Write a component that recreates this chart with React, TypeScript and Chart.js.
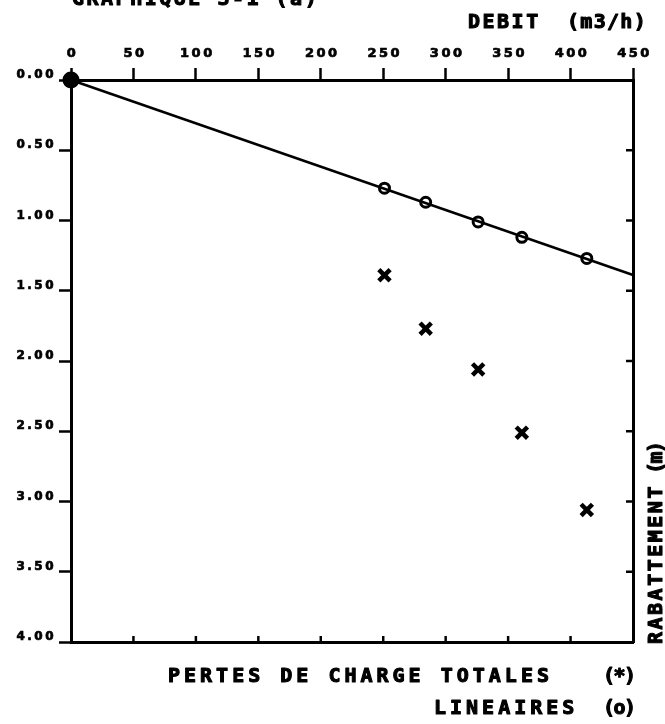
import { useEffect, useRef } from 'react';
import { Chart, registerables } from 'chart.js';

Chart.register(...registerables);

const INK = '#000000';
const MONO = '"DejaVu Sans Mono", "Liberation Mono", monospace';
const SANS = '"DejaVu Sans", Verdana, sans-serif';

// Titles and captions
const chartTitle = 'GRAPHIQUE 3-1 (a)';
const debitTitle = ['DEBIT', '(m3/h)'];
const rabTitle = ['RABATTEMENT', '(m)'];
const totalesCaption = ['PERTES DE CHARGE TOTALES', '(*)'];
const lineairesCaption = ['LINEAIRES', '(o)'];

// Axis ticks
const debitTicks = [0, 50, 100, 150, 200, 250, 300, 350, 400, 450];
const rabTicks = [0, 0.5, 1, 1.5, 2, 2.5, 3, 3.5, 4];
const rabTickLabels = ['0.00', '0.50', '1.00', '1.50', '2.00', '2.50', '3.00', '3.50', '4.00'];

// Pumping steps: flow rate (m3/h) and drawdown losses (m)
const debit = [0, 251, 284, 326, 361, 413];
const pertesTotales = [0, 1.39, 1.77, 2.06, 2.51, 3.06];
const pertesLineaires = [0, 0.77, 0.87, 1.01, 1.12, 1.27];

// Straight line fitted through the linear losses
const droiteDebit = [0, 450];
const droiteRab = [0, 1.388];

// heavy plotter-style text: fill plus a thin outline
function plotText(ctx: CanvasRenderingContext2D, text: string, x: number, y: number, spacing: number) {
  (ctx as any).letterSpacing = `${spacing}px`;
  ctx.fillText(text, x, y);
  ctx.strokeText(text, x, y);
}

const decorations = {
  id: 'decorations',
  beforeDraw(chart: any) {
    (chart.ctx as any).letterSpacing = '2.5px';
  },
  afterDraw(chart: any) {
    const { ctx, chartArea, scales } = chart;
    const xs = scales.x;
    const ys = scales.y;
    ctx.save();
    (ctx as any).letterSpacing = '0px';
    ctx.strokeStyle = INK;
    ctx.lineWidth = 2.5;
    // inward ticks along the bottom frame
    for (const q of debitTicks) {
      if (q === debitTicks[0] || q === debitTicks[debitTicks.length - 1]) continue;
      const px = xs.getPixelForValue(q);
      ctx.beginPath();
      ctx.moveTo(px, chartArea.bottom);
      ctx.lineTo(px, chartArea.bottom - 6);
      ctx.stroke();
    }
    // inward ticks along the right frame
    for (const s of rabTicks) {
      if (s === rabTicks[0] || s === rabTicks[rabTicks.length - 1]) continue;
      const py = ys.getPixelForValue(s);
      ctx.beginPath();
      ctx.moveTo(chartArea.right, py);
      ctx.lineTo(chartArea.right - 7, py);
      ctx.stroke();
    }

    ctx.fillStyle = INK;
    ctx.lineWidth = 1.1;
    ctx.lineJoin = 'round';
    ctx.font = `bold 20px ${MONO}`;
    ctx.textAlign = 'left';
    ctx.textBaseline = 'alphabetic';

    plotText(ctx, chartTitle, 72, 5, 2.5);

    plotText(ctx, debitTitle[0], 468, 28, 2.5);
    plotText(ctx, debitTitle[1], 567, 28, 1.3);

    plotText(ctx, totalesCaption[0], 168, 682, 4);
    plotText(ctx, totalesCaption[1], 603, 682, -1.5);
    plotText(ctx, lineairesCaption[0], 434, 714, 4);
    plotText(ctx, lineairesCaption[1], 603, 714, -1.5);

    // vertical title on the right, reading upwards
    ctx.save();
    ctx.translate(662, 644);
    ctx.rotate(-Math.PI / 2);
    plotText(ctx, rabTitle[0], 0, 0, 2.5);
    plotText(ctx, rabTitle[1], 170, 0, -1.5);
    ctx.restore();

    ctx.restore();
  },
};

export default function App() {
  const canvasRef = useRef<HTMLCanvasElement | null>(null);

  useEffect(() => {
    const canvas = canvasRef.current;
    if (!canvas) return;

    const chart = new Chart(canvas, {
      type: 'scatter',
      data: {
        datasets: [
          {
            label: 'LINEAIRES',
            data: debit.map((q, i) => ({ x: q, y: pertesLineaires[i] })),
            pointStyle: 'circle',
            pointRadius: debit.map((_, i) => (i === 0 ? 7 : 5)),
            pointBackgroundColor: debit.map((_, i) => (i === 0 ? INK : 'rgba(0,0,0,0)')),
            pointBorderColor: INK,
            pointBorderWidth: 3,
            showLine: false,
            clip: 14,
          },
          {
            label: 'TOTALES',
            data: debit.map((q, i) => ({ x: q, y: pertesTotales[i] })),
            pointStyle: 'crossRot',
            pointRadius: 8,
            pointBorderColor: INK,
            pointBorderWidth: 4.5,
            showLine: false,
            clip: 14,
          },
          {
            label: 'droite',
            data: droiteDebit.map((q, i) => ({ x: q, y: droiteRab[i] })),
            showLine: true,
            borderColor: INK,
            borderWidth: 2.5,
            pointRadius: 0,
            clip: 2,
          },
        ],
      },
      options: {
        responsive: false,
        animation: false,
        devicePixelRatio: 1,
        events: [],
        layout: { padding: 0 },
        plugins: {
          legend: { display: false },
          tooltip: { enabled: false },
          title: { display: false },
        },
        scales: {
          x: {
            type: 'linear',
            position: 'top',
            min: 0,
            max: 450,
            afterBuildTicks: (scale: any) => {
              scale.ticks = debitTicks.map((v) => ({ value: v }));
            },
            afterFit: (scale: any) => {
              scale.height = 80;
            },
            ticks: {
              autoSkip: false,
              maxRotation: 0,
              color: INK,
              padding: 7,
              labelOffset: 1.5,
              textStrokeColor: INK,
              textStrokeWidth: 0.7,
              font: { family: SANS, size: 13, weight: 'bold' },
              callback: (v: any) => String(v),
            },
            grid: {
              display: true,
              drawOnChartArea: false,
              drawTicks: true,
              tickLength: 12,
              tickWidth: 2.5,
              tickColor: INK,
              color: INK,
            },
            border: { display: true, color: INK, width: 3 },
          },
          y: {
            type: 'linear',
            position: 'left',
            reverse: true,
            min: 0,
            max: 4,
            afterBuildTicks: (scale: any) => {
              scale.ticks = rabTicks.map((v) => ({ value: v }));
            },
            afterFit: (scale: any) => {
              scale.width = 71;
            },
            ticks: {
              autoSkip: false,
              color: INK,
              padding: 3,
              labelOffset: -5,
              textStrokeColor: INK,
              textStrokeWidth: 0.7,
              font: { family: SANS, size: 12, weight: 'bold' },
              callback: (_v: any, i: number) => rabTickLabels[i],
            },
            grid: {
              display: true,
              drawOnChartArea: false,
              drawTicks: true,
              tickLength: 12,
              tickWidth: 2.5,
              tickColor: INK,
              color: INK,
            },
            border: { display: true, color: INK, width: 3 },
          },
          x2: {
            type: 'linear',
            position: 'bottom',
            min: 0,
            max: 450,
            afterFit: (scale: any) => {
              scale.height = 82;
            },
            ticks: { display: false },
            grid: { display: false },
            border: { display: true, color: INK, width: 3 },
          },
          y2: {
            type: 'linear',
            position: 'right',
            reverse: true,
            min: 0,
            max: 4,
            afterFit: (scale: any) => {
              scale.width = 32;
            },
            ticks: { display: false },
            grid: { display: false },
            border: { display: true, color: INK, width: 3 },
          },
        },
      } as any,
      plugins: [decorations],
    });

    return () => chart.destroy();
  }, []);

  return (
    <div style={{ position: 'fixed', left: 0, top: 0, width: 665, height: 724, background: '#ffffff' }}>
      <canvas ref={canvasRef} width={665} height={724} />
    </div>
  );
}
